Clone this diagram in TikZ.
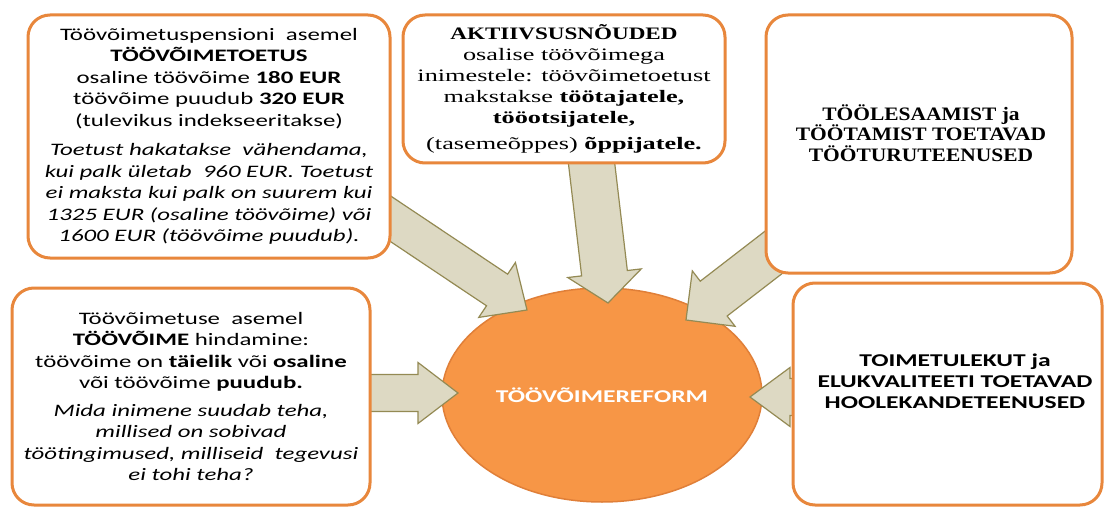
\documentclass[tikz,border=0pt]{standalone}
\usepackage{fontspec}
\setmainfont{Carlito}[FakeStretch=1.42]
\newfontfamily\srf{Liberation Serif}[FakeStretch=1.5]
\newfontfamily\srfb{Liberation Serif}[FakeStretch=1.32]
\newfontfamily\srfc{Liberation Serif}[FakeStretch=1.13]
\usetikzlibrary{calc,shapes.geometric}
\definecolor{boxline}{HTML}{E8873C}
\definecolor{ellfill}{HTML}{F79646}
\definecolor{ellline}{HTML}{E07F38}
\definecolor{arrfill}{HTML}{DDD9C3}
\definecolor{arrline}{HTML}{948A54}
\tikzset{
  infobox/.style={draw=boxline, line width=3pt, rounded corners=22pt, fill=white,
    align=center, inner sep=0pt, font=\fontsize{17.5}{21.5}\selectfont},
  boxtext/.style={align=center, inner sep=0pt},
  arrowbody/.style={fill=arrfill, draw=arrline, line width=1.2pt, line join=miter},
  reform/.style={ellipse, fill=ellfill, draw=ellline, line width=1.5pt,
    minimum width=320pt, minimum height=214pt, inner sep=0pt,
    text=white, font=\fontsize{18}{20}\selectfont\bfseries}
}
% start, tip, half shaft width, half head width, head length
\newcommand\blockarrow[5]{%
  \coordinate (hb) at ($(#2)!#5!(#1)$);
  \filldraw[arrowbody] ($(#1)!#3!90:(#2)$) -- ($(hb)!#3!90:(#2)$) -- ($(hb)!#4!90:(#2)$)
    -- (#2) -- ($(hb)!#4!-90:(#2)$) -- ($(hb)!#3!-90:(#2)$) -- ($(#1)!#3!-90:(#2)$) -- cycle;}
\begin{document}
\begin{tikzpicture}[x=1pt,y=-1pt]
\useasboundingbox (0,0) rectangle (1104,508);
\fill[white] (0,0) rectangle (1104,508);

\node[reform] (ell) at (602,395) {TÖÖVÕIMEREFORM};

\coordinate (a1s) at (361,199); \coordinate (a1t) at (527,310);
\coordinate (a2s) at (590,150); \coordinate (a2t) at (608,303);
\coordinate (a3s) at (844,198); \coordinate (a3t) at (686,320);
\coordinate (a4s) at (330,393); \coordinate (a4t) at (458,393);
\coordinate (a5s) at (840,397); \coordinate (a5t) at (750,397);
\blockarrow{a1s}{a1t}{19pt}{33pt}{36pt}
\blockarrow{a2s}{a2t}{23pt}{37pt}{30pt}
\blockarrow{a3s}{a3t}{22pt}{35pt}{35pt}
\blockarrow{a4s}{a4t}{18.5pt}{30.5pt}{40pt}
\blockarrow{a5s}{a5t}{18.5pt}{29.5pt}{40pt}

\node[infobox, minimum width=362pt, minimum height=243pt] (b1) at (209,136.5)
 {Töövõimetuspensioni\ \ asemel\\
  \textbf{TÖÖVÕIMETOETUS}\\
  osaline töövõime \textbf{180 EUR}\\
  töövõime puudub \textbf{320 EUR}\\
  (tulevikus indekseeritakse)\\[8pt]
  \itshape Toetust hakatakse\ \ vähendama,\\
  \itshape kui palk ületab\ \ 960 EUR. Toetust\\
  \itshape ei maksta kui palk on suurem kui\\
  \itshape 1325 EUR (osaline töövõime) või\\
  \itshape 1600 EUR (töövõime puudub).};

\node[infobox, minimum width=322pt, minimum height=148pt,
      font=\srf\fontsize{17.5}{21}\selectfont] (b2) at (564,89)
 {{\srfb\bfseries AKTIIVSUSNÕUDED}\\
  osalise töövõimega\\
  inimestele: töövõimetoetust\\
  makstakse \textbf{töötajatele,}\\
  \textbf{tööotsijatele,}\\[5pt]
  (tasemeõppes) \textbf{õppijatele.}};

\node[infobox, minimum width=306pt, minimum height=258pt] (b3) at (919,144) {};
\node[boxtext, font=\srfc\bfseries\fontsize{19}{20.5}\selectfont] (t3) at (921,133)
 {TÖÖLESAAMIST ja\\ TÖÖTAMIST TOETAVAD\\ TÖÖTURUTEENUSED};

\node[infobox, minimum width=358pt, minimum height=217pt] (b4) at (191,396.5)
 {Töövõimetuse\ \ asemel\\
  \textbf{TÖÖVÕIME} hindamine:\\
  töövõime on \textbf{täielik} või \textbf{osaline}\\
  või töövõime \textbf{puudub.}\\[6pt]
  \itshape Mida inimene suudab teha,\\
  \itshape millised on sobivad\\
  \itshape töötingimused, milliseid\ \ tegevusi\\
  \itshape ei tohi teha?};

\node[infobox, minimum width=309pt, minimum height=222pt] (b5) at (947.5,394) {};
\node[boxtext, font=\bfseries\fontsize{18}{21}\selectfont] (t5) at (955,381)
 {TOIMETULEKUT ja\\ ELUKVALITEETI TOETAVAD\\ HOOLEKANDETEENUSED};
\end{tikzpicture}
\end{document}
